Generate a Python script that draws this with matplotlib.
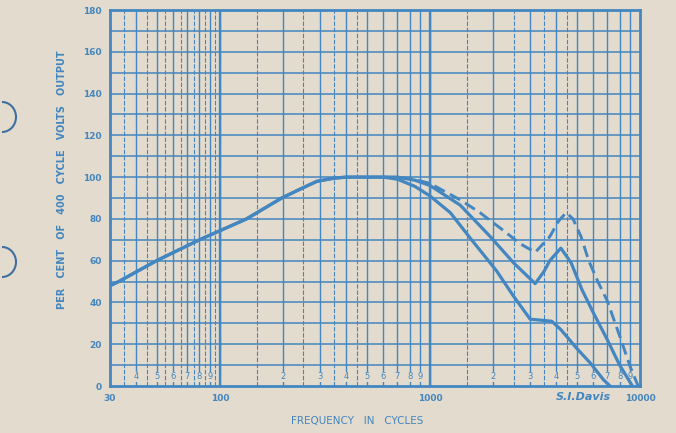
import numpy as np
import matplotlib
matplotlib.use("Agg")
from matplotlib import pyplot as plt
from matplotlib.patches import Arc

# curve readings (frequency in cycles, per cent of 400 cycle output)
low_f = [30, 33, 50, 80, 134, 197, 250, 290, 350, 400, 500, 600, 700, 850, 1000, 1250, 1550,
         2080, 2500, 3000, 3800, 4200, 5000, 5800, 6700, 7200]
low_v = [48, 50, 60, 70, 80, 90, 95, 98, 99.5, 100, 100, 100, 99, 95.5, 91, 83, 71,
         55, 43, 32, 31, 27, 18, 11, 3, 0]

mid_f = [30, 33, 50, 80, 134, 197, 250, 290, 350, 400, 500, 600, 700, 850, 1000, 1393, 1938,
         2500, 3170, 3500, 3720, 4200, 4700, 5300, 6000, 7000, 8000, 8700, 9200]
mid_v = [48, 50, 60, 70, 80, 90, 95, 98, 99.5, 100, 100, 100, 100, 98.5, 96, 86.6, 71.5,
         59, 49, 55, 60, 66, 59, 46, 35, 22, 10, 4, 0]

dash_f = [600, 800, 1000, 1400, 1730, 2200, 2700, 3170, 3720, 4100, 4450, 4800, 5240, 5700,
          6300, 6970, 8000, 9000, 9800]
dash_v = [100, 99.5, 97, 89, 83, 75, 68, 64, 71.5, 79, 83, 80, 71.5, 60,
          50, 41, 24, 9, 0]

y_ticks = [0, 20, 40, 60, 80, 100, 120, 140, 160, 180]
x_ticks = [30, 100, 1000, 10000]
x_ticklabels = ["30", "100", "1000", "10000"]
digits = [2, 3, 4, 5, 6, 7, 8, 9]

paper = "#e3dbce"
ink = "#4386c0"

fig = plt.figure(figsize=(6.76, 4.33), dpi=100, facecolor=paper)
ax = fig.add_axes([110/676, 47/433, 530/676, 376/433])
ax.set_facecolor(paper)
ax.set_xscale("log")
ax.set_xlim(30, 10000)
ax.set_ylim(0, 180)

# graph paper grid
full = []
half = []
for f in range(35, 100, 5):
    (half if f % 10 == 5 else full).append(f)
for dec in [100, 1000]:
    for m in np.arange(1, 10, 0.5):
        f = m * dec
        if m == 1:
            full.append(f)
        elif m < 5:
            (half if m % 1 else full).append(f)
        elif m % 1 == 0:
            full.append(f)
for f in full:
    ax.axvline(f, color=ink, lw=1.0, zorder=1)
for f in half:
    ax.axvline(f, color=ink, lw=0.8, ls=(0, (4, 1.5)), zorder=1)
ax.axvline(100, color=ink, lw=1.7, zorder=1)
ax.axvline(1000, color=ink, lw=1.7, zorder=1)
for v in range(10, 180, 10):
    ax.axhline(v, color=ink, lw=1.1, zorder=1)

# digit labels in the bottom band
for d in [4, 5, 6, 7, 8, 9]:
    ax.text(d * 10, 4.5, str(d), color=ink, fontsize=6, ha="center", va="center",
            zorder=2, bbox=dict(boxstyle="square,pad=0.05", fc=paper, ec="none"))
for dec in [100, 1000]:
    for d in digits:
        ax.text(d * dec, 4.5, str(d), color=ink, fontsize=6, ha="center", va="center",
                zorder=2, bbox=dict(boxstyle="square,pad=0.05", fc=paper, ec="none"))

# curves
ax.plot(low_f, low_v, color=ink, lw=2.3, solid_capstyle="round", zorder=3)
ax.plot(mid_f, mid_v, color=ink, lw=2.3, solid_capstyle="round", zorder=3)
ax.plot(dash_f, dash_v, color=ink, lw=2.1, ls=(0, (4, 2)), zorder=3)

for s in ax.spines.values():
    s.set_color(ink)
    s.set_linewidth(2)

ax.set_yticks(y_ticks)
ax.set_yticklabels([str(v) for v in y_ticks], color=ink, fontsize=6.5, fontweight="bold")
ax.set_xticks(x_ticks)
ax.set_xticklabels(x_ticklabels, color=ink, fontsize=6.5, fontweight="bold")
ax.xaxis.set_minor_locator(matplotlib.ticker.NullLocator())
ax.tick_params(length=0, pad=6)

fig.text(357/676, 1 - 421/433, "FREQUENCY   IN   CYCLES", color=ink, fontsize=7.5,
         ha="center", va="center")
fig.text(62/676, 1 - 180/433, "PER   CENT   OF   400   CYCLE   VOLTS   OUTPUT", color=ink,
         fontsize=7, fontweight="bold", rotation=90, ha="center", va="center")
fig.text(583/676, 1 - 397/433, "S.I.Davis", color=ink, fontsize=8, style="italic",
         ha="center", va="center", fontweight="bold")

# binder hole shadows on the left edge
over = fig.add_axes([0, 0, 1, 1], facecolor="none")
over.set_xlim(0, 676)
over.set_ylim(433, 0)
over.axis("off")
for cy in [117, 262]:
    over.add_patch(Arc((2, cy), 28, 30, theta1=-90, theta2=90, color="#3f6f9f", lw=1.5))

fig.savefig("out.png", dpi=100, facecolor=paper)
